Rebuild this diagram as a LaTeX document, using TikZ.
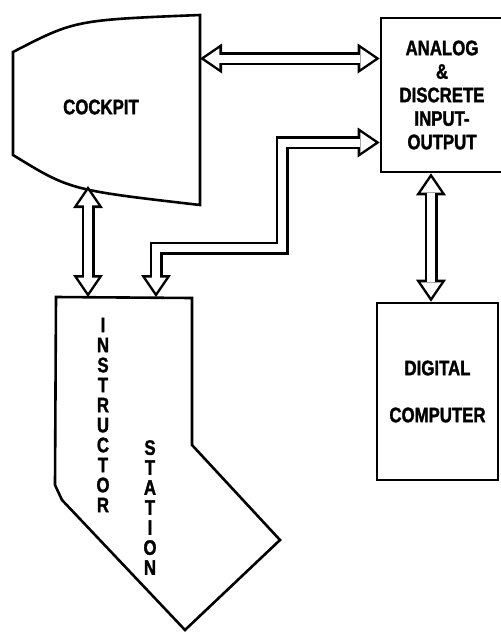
\documentclass[tikz,border=0pt]{standalone}
\usepackage{fontspec}
\newfontfamily\blockfont[FakeStretch=0.8, FakeBold=1.5]{Liberation Sans}
\usetikzlibrary{arrows.meta, calc}

\begin{document}
\begin{tikzpicture}[
      x=1pt, y=-1pt,
      font=\blockfont\bfseries\fontsize{21}{23.5}\selectfont,
      outline/.style = {draw, line width=2.6pt, line join=miter},
      box/.style = {outline, rectangle, inner sep=0pt, align=center},
      vtext/.style = {align=center, inner sep=0pt, font=\blockfont\bfseries\fontsize{21}{20}\selectfont},
      % --- hollow double arrows ---
      bighead/.tip = {Triangle[length=22pt, width=30pt, line width=0pt]},
      bigheadin/.tip = {Triangle[length=15pt, width=20.5pt, line width=0pt]},
      hollow/.style = {draw=black, line width=13pt, line join=miter, arrows={bighead-bighead},
        postaction={draw=white, line width=8pt, arrows={bigheadin-bigheadin}, shorten <=4.4pt, shorten >=4.4pt}}
    ]
      \useasboundingbox (0,0) rectangle (501,633);

      % --- COCKPIT ---
      \draw[outline] (13,52) .. controls (75,20) .. (200,15) -- (200,205)
        .. controls (70,190) .. (13,155) -- cycle;
      \node (cockpit) at (101,107) {COCKPIT};
      \coordinate (cockpitE) at (200,58.5);
      \coordinate (cockpitS) at (88,186);

      % --- INSTRUCTOR STATION ---
      \draw[outline] (56,297) -- (192,298) -- (192,445) -- (280,540) -- (185,630)
        -- (62,500) -- (55,485) -- cycle;
      \node[vtext] (instructor) at (103,415) {I\\N\\S\\T\\R\\U\\C\\T\\O\\R};
      \node[vtext] (station) at (150,507.5) {S\\T\\A\\T\\I\\O\\N};
      \coordinate (instA) at (88,297);
      \coordinate (instB) at (156,297);
      \coordinate (bend) at (282,248);

      % --- INPUT-OUTPUT AND COMPUTER ---
      \node[box, minimum width=122pt, minimum height=154pt] (aio) at (442,95)
        {ANALOG\\\&\\DISCRETE\\INPUT-\\OUTPUT};
      \node[box, minimum width=121pt, minimum height=177pt] (digital) at (437.5,391.5)
        {DIGITAL\\[23.5pt]COMPUTER};

      % --- Connections ---
      \draw[hollow] (cockpitE) -- (cockpitE -| aio.west);
      \draw[hollow] (cockpitS) -- (instA);
      \draw[hollow] ([yshift=-47.5pt]aio.west) -| (bend) -| (instB);
      \draw[hollow] ([xshift=-11pt]aio.south) -- ([xshift=-6.5pt]digital.north);

    \end{tikzpicture}
\end{document}
